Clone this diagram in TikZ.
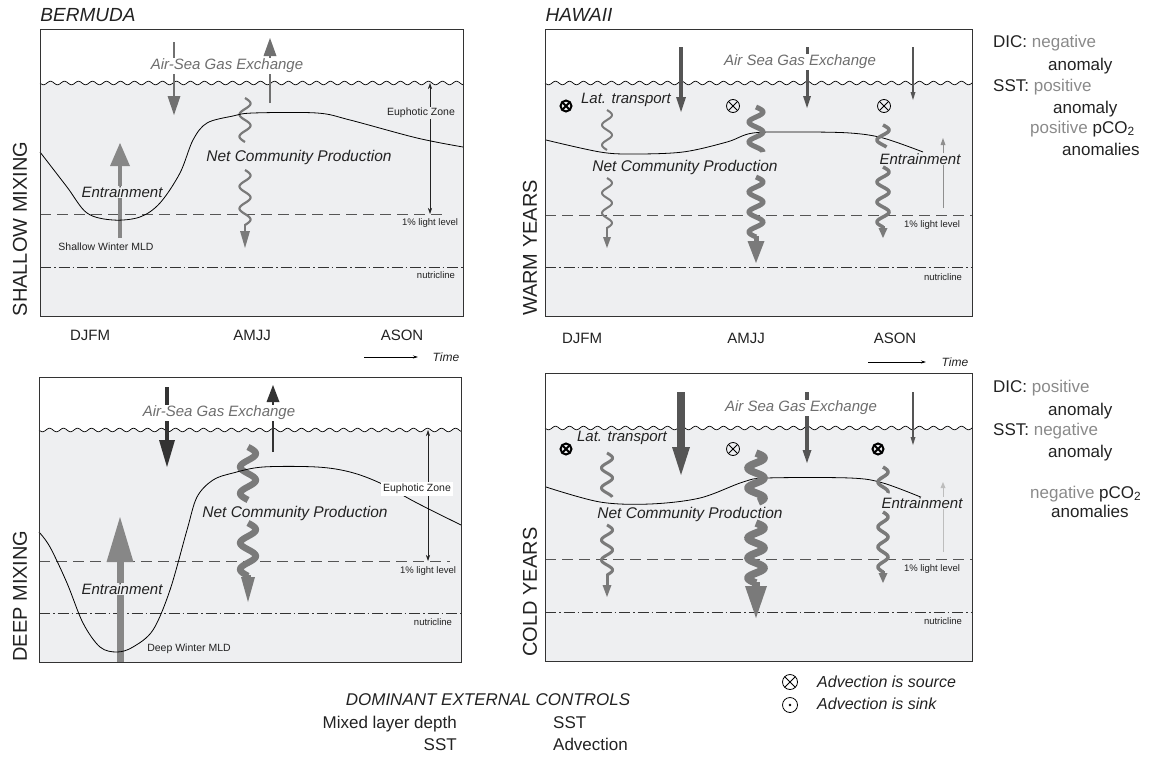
\documentclass[tikz,border=0pt]{standalone}
\usepackage{fontspec}
\setmainfont{Liberation Sans}
\usetikzlibrary{arrows.meta}
\definecolor{ocean}{RGB}{238,239,241}
\definecolor{boxc}{HTML}{333333}
\definecolor{ggray}{HTML}{707070}
\definecolor{entr}{HTML}{878787}
\definecolor{dark}{HTML}{333333}
\definecolor{hgray}{HTML}{555555}
\definecolor{wgray}{HTML}{7A7A7A}
\definecolor{tgray}{HTML}{6E6E6E}
\definecolor{lgray}{HTML}{8F8F8F}
\definecolor{llgray}{HTML}{BDBDBD}
\definecolor{rgray}{HTML}{8A8A8A}
\definecolor{txt}{HTML}{222222}
\newcommand{\fs}[1]{\fontsize{#1}{#1}\selectfont}
% x, tail y, tip y, shaft width, head half width, head length, colour
\newcommand{\dnarr}[7]{%
  \draw[line width=#4, draw=#7] (#1,#2) -- (#1,{#3-#6+0.5});
  \fill[#7] ({#1-#5},{#3-#6}) -- ({#1+#5},{#3-#6}) -- (#1,#3) -- cycle;}
\newcommand{\uparr}[7]{%
  \draw[line width=#4, draw=#7] (#1,#2) -- (#1,{#3+#6-0.5});
  \fill[#7] ({#1-#5},{#3+#6}) -- ({#1+#5},{#3+#6}) -- (#1,#3) -- cycle;}
% x, y0, y1, amplitude, period, options
\newcommand{\wavy}[6]{%
  \draw[#6] plot[domain=#2:#3, samples=90, smooth, variable=\t] ({#1+#4*sin((\t-#2)/#5*360)},{\t});}
% x0, width, y, bottom
\newcommand{\surf}[4]{%
  \fill[ocean] plot[domain=0:#2, samples=300, variable=\t] ({#1+\t},{#3+1.8*sin(\t*25.714)}) -- ({#1+#2},#4) -- (#1,#4) -- cycle;
  \draw[line width=0.7pt] plot[domain=0:#2, samples=300, variable=\t] ({#1+\t},{#3+1.8*sin(\t*25.714)});}
% x, y, r, lw
\newcommand{\srcmark}[4]{%
  \draw[line width=#4] (#1,#2) circle[radius=#3pt];
  \draw[line width=#4] ({#1-0.707*#3},{#2-0.707*#3}) -- ({#1+0.707*#3},{#2+0.707*#3});
  \draw[line width=#4] ({#1-0.707*#3},{#2+0.707*#3}) -- ({#1+0.707*#3},{#2-0.707*#3});}
\newcommand{\sinkmark}[4]{%
  \draw[line width=#4] (#1,#2) circle[radius=#3pt];
  \fill (#1,#2) circle[radius=1.3pt];}
\tikzset{
  boxline/.style={line width=0.9pt, draw=boxc},
  mld/.style={line width=0.8pt, black},
  dashline/.style={line width=0.9pt, draw=hgray, dash pattern=on 11pt off 6pt},
  ddline/.style={line width=0.8pt, draw=dark, dash pattern=on 11pt off 3pt on 1.5pt off 3pt},
  euph/.style={line width=0.6pt, draw=txt, {Stealth[length=6pt,width=4pt]}-{Stealth[length=6pt,width=4pt]}},
  ital/.style={font={\fs{15}\itshape}, text=txt, inner sep=1pt},
  gasx/.style={font={\fs{15}\itshape}, text=tgray, fill=white, inner sep=1.5pt},
  small/.style={font={\fs{9.5}}, text=txt, inner sep=1pt},
  smallb/.style={font={\fs{10.5}}, text=txt, inner sep=1.5pt},
  head/.style={font={\fs{19}\itshape}, text=txt},
  side/.style={font={\fs{20}}, text=txt, rotate=90},
  month/.style={font={\fs{15}}, text=txt},
  rt/.style={font={\fs{17}}, text=txt, anchor=base west, inner sep=0pt},
  timearr/.style={line width=0.7pt, -{Stealth[length=5pt,width=3pt]}},
}
\begin{document}
\begin{tikzpicture}[x=1pt, y=-1pt]
\useasboundingbox (0,0) rectangle (1151,763);

% ================= Panel 1: Bermuda shallow =================
\surf{40}{423}{83}{316}
\draw[dashline] (40,214) -- (448,214);
\draw[ddline] (40,267) -- (463,267);
\draw[euph] (430,83) -- (430,214);
\dnarr{174}{42}{115}{2pt}{6.5}{19}{ggray}
\uparr{270}{103}{38}{2pt}{6.5}{18}{ggray}
\uparr{120}{238}{143}{3.3pt}{10}{23}{entr}
\wavy{245}{98}{142}{5.5}{22}{line width=2.2pt, wgray}
\wavy{245}{170}{225}{5.5}{22}{line width=2.2pt, wgray}
\dnarr{245}{224}{248}{2.2pt}{5}{17}{wgray}
\node[gasx] (ase1) at (227,66) {Air-Sea Gas Exchange};
\node[ital, fill=ocean, inner sep=0.5pt] (en1) at (122,192) {Entrainment};
\draw[mld] plot[smooth, tension=0.55] coordinates {(40,152) (67,187) (87,213) (113,220) (140,217) (160,203) (180,173) (193,140) (207,123) (233,116) (253,113) (317,113) (350,120) (417,138) (463,147)};
\node[smallb, fill=ocean] (ez1) at (421,113) {Euphotic Zone};
\node[small] (ll1) at (430,223) {1\% light level};
\node[small] (nc1) at (436,275) {nutricline};
\node[smallb] (sw1) at (106,247) {Shallow Winter MLD};
\node[ital, font={\fs{15.5}\itshape}] (ncp1) at (299,157) {Net Community Production};
\draw[boxline] (40,29) rectangle (463,316);
\node[head] (ber) at (88,15) {BERMUDA};
\node[side] (sm) at (20,229) {SHALLOW MIXING};
\node[month] (m1) at (90,335) {DJFM};
\node[month] (m2) at (252,335) {AMJJ};
\node[month] (m3) at (402,335) {ASON};
\coordinate (t1a) at (364,357);
\coordinate (t1b) at (418,357);
\draw[timearr] (t1a) -- (t1b);
\node[font={\fs{12}\itshape}, text=txt] (time1) at (446,357) {Time};

% ================= Panel 3: Bermuda deep =================
\surf{39}{422}{430}{662}
\draw[dashline] (39,561) -- (450,561);
\draw[ddline] (39,613) -- (461,613);
\draw[euph] (428,430) -- (428,561);
\dnarr{167}{387}{467}{4pt}{8}{27}{dark}
\uparr{273}{452}{385}{2pt}{6.5}{17}{dark}
\uparr{120}{662}{517}{7pt}{13.5}{45}{entr}
\wavy{248}{447}{500}{7.8}{26.5}{line width=6.5pt, wgray}
\wavy{248}{523}{576}{7.8}{26.5}{line width=6.5pt, wgray}
\dnarr{248}{575}{602}{6.5pt}{7}{25}{wgray}
\node[gasx] (ase3) at (219,413) {Air-Sea Gas Exchange};
\node[ital, fill=ocean, inner sep=0.5pt] (en3) at (122,589) {Entrainment};
\draw[mld] plot[smooth, tension=0.55] coordinates {(39,532) (50,547) (67,583) (83,623) (100,647) (117,652) (133,647) (153,630) (170,590) (187,530) (197,497) (213,480) (233,473) (263,467) (317,467) (350,472) (380,483) (417,503) (461,525)};
\node[smallb, fill=white, inner sep=2pt] (ez3) at (417,489) {Euphotic Zone};
\node[small] (ll3) at (428,571) {1\% light level};
\node[small] (nc3) at (433,622) {nutricline};
\node[smallb] (dw3) at (189,649) {Deep Winter MLD};
\node[ital, font={\fs{15.5}\itshape}] (ncp3) at (295,513) {Net Community Production};
\draw[boxline] (39,377) rectangle (461,662);
\node[side] (dm) at (20,596) {DEEP MIXING};

% ================= Panel 2: Hawaii warm =================
\surf{545}{427}{83}{316}
\draw[dashline] (545,215) -- (972,215);
\draw[ddline] (545,267) -- (972,267);
\draw[mld] plot[smooth, tension=0.55] coordinates {(546,140) (600,152) (633,154) (683,152) (727,142) (753,133) (800,132) (850,133) (883,138) (923,152)};
\dnarr{681}{47}{112}{4pt}{5}{15}{hgray}
\dnarr{807}{47}{108}{3pt}{4}{12}{hgray}
\dnarr{913}{47}{100}{1.2pt}{2.5}{8}{hgray}
\uparr{943}{208}{138}{0.8pt}{2.5}{7}{lgray}
\wavy{607}{110}{150}{5}{20}{line width=2pt, wgray}
\wavy{607}{178}{228}{5}{20}{line width=2pt, wgray}
\dnarr{607}{227}{248}{2pt}{4}{11}{wgray}
\wavy{756}{107}{152}{7}{20}{line width=5pt, wgray}
\wavy{756}{177}{237}{7}{20}{line width=5pt, wgray}
\dnarr{756}{236}{263}{5pt}{8.5}{22}{wgray}
\wavy{883}{125}{147}{6}{20}{line width=3.5pt, wgray}
\wavy{883}{167}{227}{6}{20}{line width=3.5pt, wgray}
\dnarr{883}{226}{238}{3.5pt}{4.5}{10}{wgray}
\srcmark{566}{106}{5.5}{2pt}
\srcmark{733}{106}{6.5}{0.8pt}
\srcmark{884}{106}{6.5}{0.8pt}
\node[gasx] (ase2) at (800,62) {Air Sea Gas Exchange};
\node[ital] (lt2) at (626,100) {Lat. transport};
\node[ital, font={\fs{15.5}\itshape}] (ncp2) at (685,167) {Net Community Production};
\node[ital, fill=ocean, inner sep=0.5pt] (en2) at (920,159) {Entrainment};
\node[small] (ll2) at (932,225) {1\% light level};
\node[small] (nc2) at (943,277) {nutricline};
\draw[boxline] (545,29) rectangle (972,316);
\node[head] (haw) at (579,15) {HAWAII};
\node[side] (wy) at (530,248) {WARM YEARS};
\node[month] (m4) at (582,338) {DJFM};
\node[month] (m5) at (746,338) {AMJJ};
\node[month] (m6) at (895,338) {ASON};
\coordinate (t2a) at (868,362);
\coordinate (t2b) at (926,362);
\draw[timearr] (t2a) -- (t2b);
\node[font={\fs{12}\itshape}, text=txt] (time2) at (955,362) {Time};

% ================= Panel 4: Hawaii cold =================
\surf{545}{427}{428}{661}
\draw[dashline] (545,559) -- (972,559);
\draw[ddline] (545,612) -- (972,612);
\draw[mld] plot[smooth, tension=0.55] coordinates {(546,487) (600,502) (650,504) (700,498) (743,482) (767,478) (850,478) (883,483) (923,498)};
\dnarr{681}{392}{475}{8pt}{9}{28}{hgray}
\dnarr{807}{392}{463}{3.5pt}{4.5}{13}{hgray}
\dnarr{913}{392}{445}{1.5pt}{2.5}{8}{hgray}
\uparr{943}{552}{482}{0.8pt}{2.5}{6}{llgray}
\wavy{607}{453}{497}{5.5}{20}{line width=3pt, wgray}
\wavy{607}{525}{575}{5.5}{20}{line width=3pt, wgray}
\dnarr{607}{574}{597}{3pt}{4.5}{12}{wgray}
\wavy{756}{453}{502}{8}{20}{line width=7.5pt, wgray}
\wavy{756}{523}{583}{8}{20}{line width=7.5pt, wgray}
\dnarr{756}{582}{618}{7.5pt}{11}{32}{wgray}
\wavy{883}{467}{493}{5}{20}{line width=3.5pt, wgray}
\wavy{883}{512}{572}{5}{20}{line width=3.5pt, wgray}
\dnarr{883}{571}{583}{3.5pt}{4.5}{10}{wgray}
\srcmark{566}{449}{5.5}{2pt}
\srcmark{733}{449}{6.5}{0.8pt}
\srcmark{878}{449}{5.5}{2pt}
\node[gasx] (ase4) at (801,408) {Air Sea Gas Exchange};
\node[ital] (lt4) at (622,438) {Lat. transport};
\node[ital, font={\fs{15.5}\itshape}] (ncp4) at (690,514) {Net Community Production};
\node[ital, fill=ocean, inner sep=0.5pt] (en4) at (922,503) {Entrainment};
\node[small] (ll4) at (932,569) {1\% light level};
\node[small] (nc4) at (943,621) {nutricline};
\draw[boxline] (545,373) rectangle (972,661);
\node[side] (cy) at (530,592) {COLD YEARS};

% ================= Right-hand text =================
\node[rt] (dic1) at (993,47) {DIC: \textcolor{rgray}{negative}};
\node[rt] (an1) at (1048,70) {anomaly};
\node[rt] (sst1) at (993,91.5) {SST: \textcolor{rgray}{positive}};
\node[rt] (an2) at (1053,113) {anomaly};
\node[rt] (pc1) at (1030,133) {\textcolor{rgray}{positive} pCO\textsubscript{2}};
\node[rt] (ano1) at (1062,155) {anomalies};
\node[rt] (dic2) at (993,392) {DIC: \textcolor{rgray}{positive}};
\node[rt] (an3) at (1048,415) {anomaly};
\node[rt] (sst2) at (993,435) {SST: \textcolor{rgray}{negative}};
\node[rt] (an4) at (1048,457) {anomaly};
\node[rt] (pc2) at (1030,498) {\textcolor{rgray}{negative} pCO\textsubscript{2}};
\node[rt] (ano2) at (1051,517) {anomalies};

% ================= Bottom text =================
\node[font={\fs{17}\itshape}, text=txt, anchor=base, inner sep=0pt] (dom) at (488,705) {DOMINANT EXTERNAL CONTROLS};
\node[font={\fs{17}}, text=txt, anchor=base east, inner sep=0pt] (mld) at (457,728) {Mixed layer depth};
\node[font={\fs{17}}, text=txt, anchor=base east, inner sep=0pt] (sstl) at (457,750) {SST};
\node[font={\fs{17}}, text=txt, anchor=base west, inner sep=0pt] (sstr) at (553,728) {SST};
\node[font={\fs{17}}, text=txt, anchor=base west, inner sep=0pt] (adv) at (553,750) {Advection};
\srcmark{790}{682}{7.5}{0.8pt}
\sinkmark{790}{705}{7.5}{0.8pt}
\node[font={\fs{16}\itshape}, text=txt, anchor=base west, inner sep=0pt] (src) at (817,687) {Advection is source};
\node[font={\fs{16}\itshape}, text=txt, anchor=base west, inner sep=0pt] (snk) at (817,709) {Advection is sink};
\end{tikzpicture}
\end{document}
